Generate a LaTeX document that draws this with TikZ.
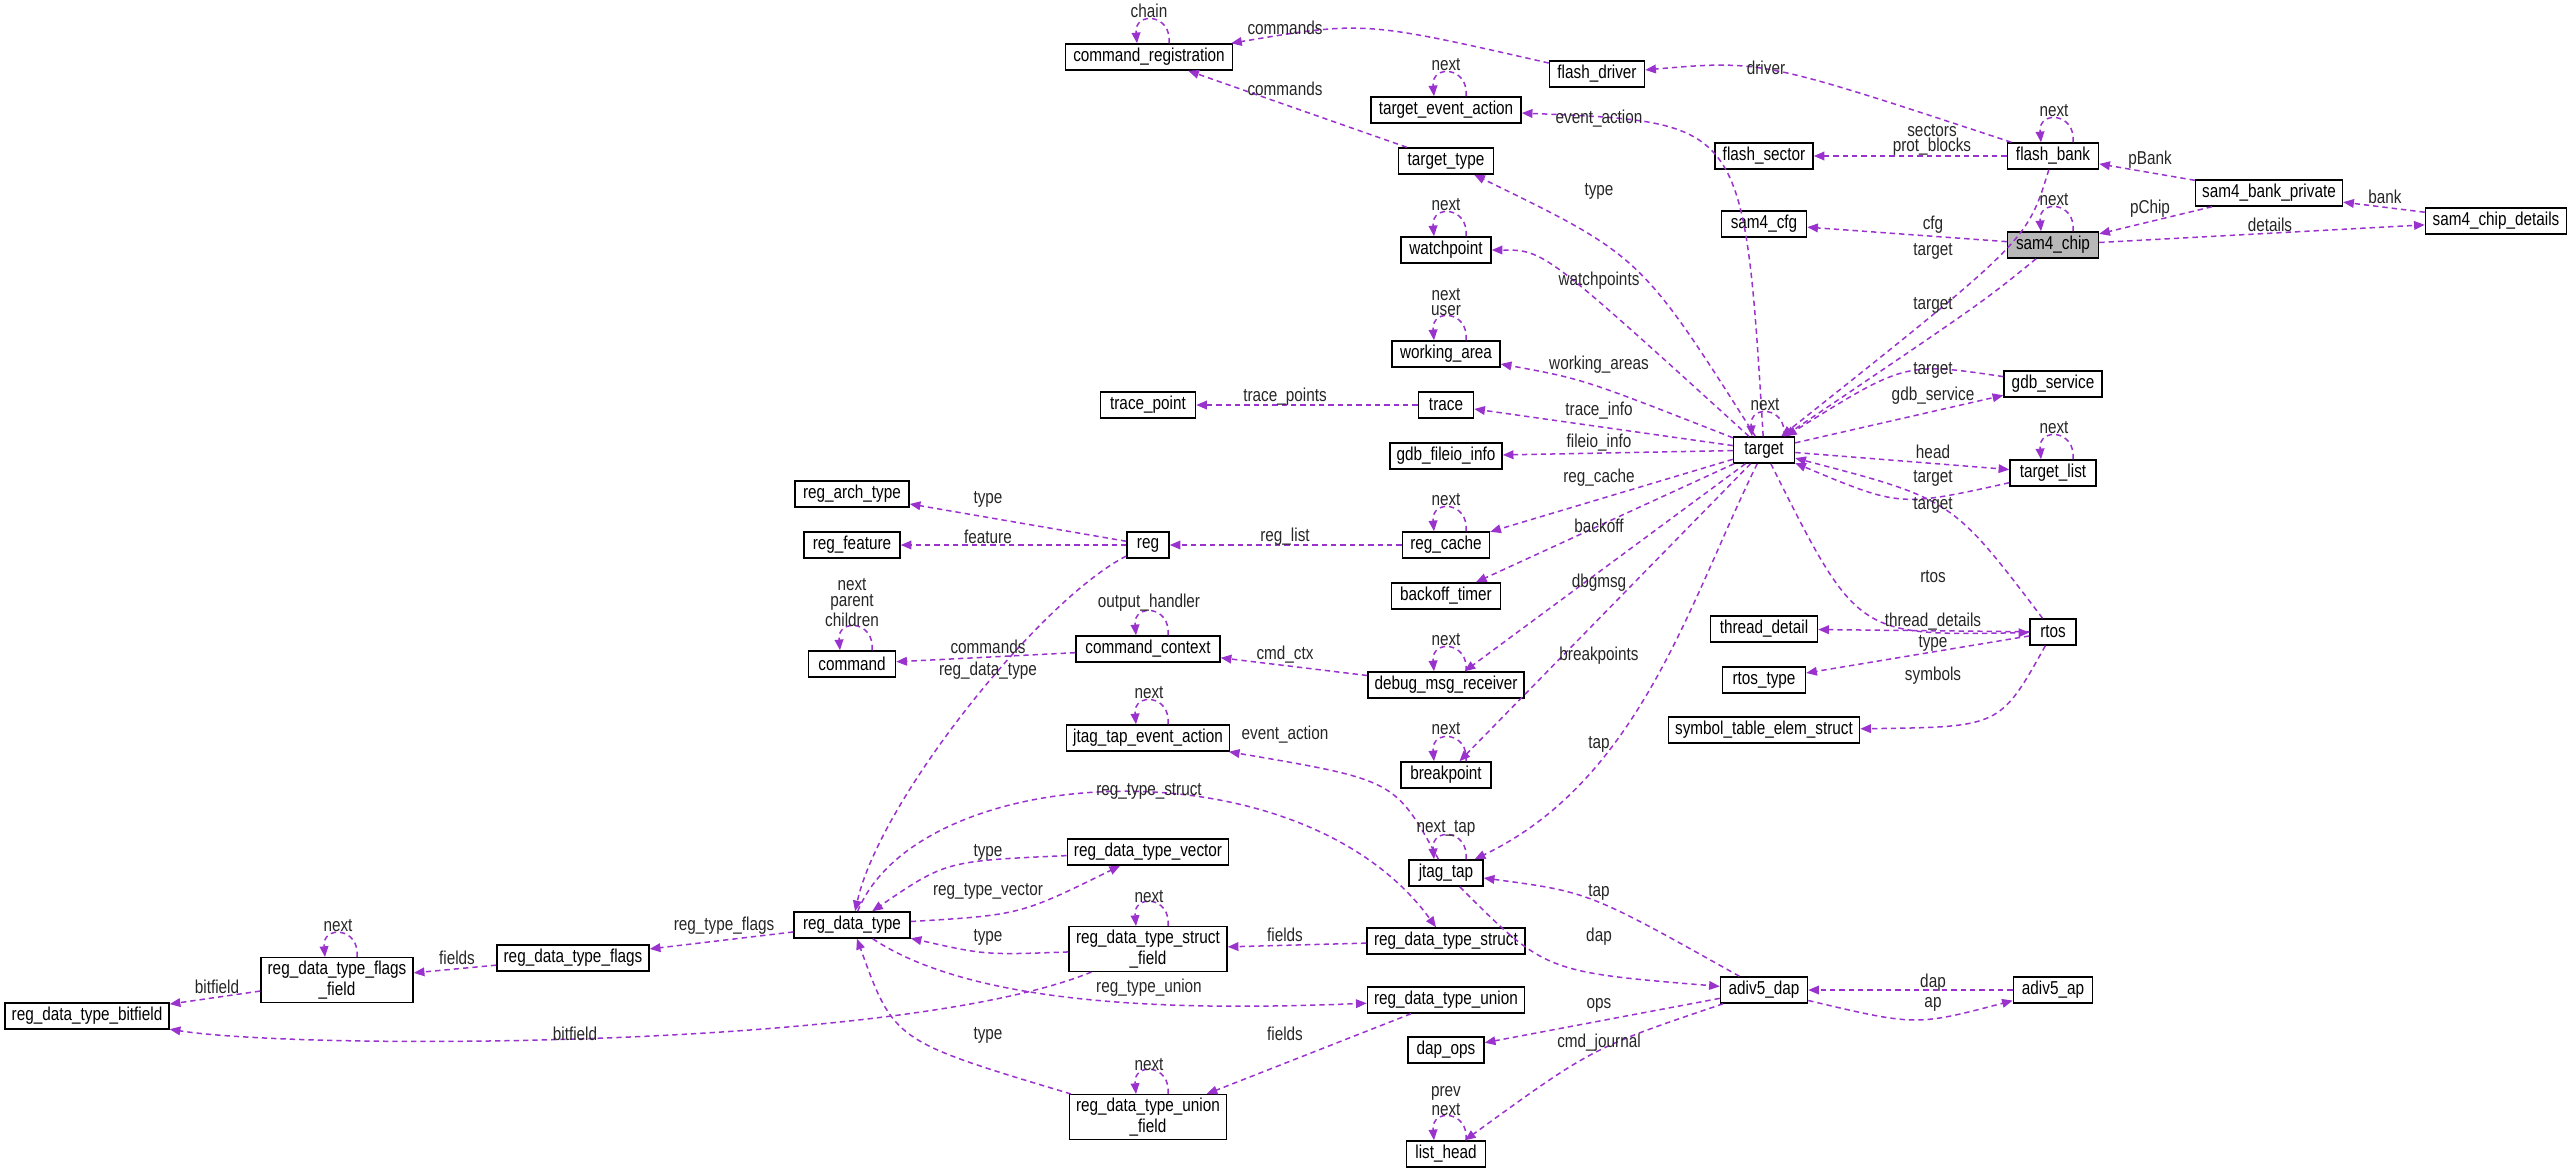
\documentclass[tikz,border=0pt]{standalone}
\usepackage{fontspec}
\setmainfont{Liberation Sans}[FakeStretch=0.82]
\usetikzlibrary{arrows.meta,calc}
\definecolor{ec}{HTML}{9A32CD}
\tikzset{
  nd/.style={draw=black,line width=0.45pt,fill=white,inner xsep=2pt,inner ysep=1pt,minimum height=26*0.3pt,minimum width=#1*0.3pt,font=\fontsize{5.6}{6.2}\selectfont,align=center},
  nd2/.style={nd=#1,minimum height=41*0.3pt},
  e/.style={draw=ec,dashed,dash pattern=on 1.6pt off 1.2pt,line width=0.45pt,-{Triangle[length=3.2pt,width=2.6pt]}},
  lb/.style={font=\fontsize{5.6}{4.6}\selectfont,align=center,inner sep=0pt,text=black!85}
}
\newcommand{\sloop}[1]{\draw[e] ($(#1.north)+(20,0)$) .. controls +(3,-30) and +(-3,-32) .. ($(#1.north)+(-12,0)$);}
\begin{document}
\begin{tikzpicture}[x=0.3pt,y=-0.3pt]
\useasboundingbox (0,0) rectangle (2572,1173);
% nodes
\node[nd=167] (cr) at (1149,57) {command\_registration};
\node[nd=95] (fd) at (1597,74) {flash\_driver};
\node[nd=150] (tea) at (1446,110) {target\_event\_action};
\node[nd=95] (tt) at (1446,161) {target\_type};
\node[nd=98] (fs) at (1764,156) {flash\_sector};
\node[nd=91] (fb) at (2053,156) {flash\_bank};
\node[nd=146] (sbp) at (2269,193) {sam4\_bank\_private};
\node[nd=141] (scd) at (2496,221) {sam4\_chip\_details};
\node[nd=85] (cfg) at (1764,224) {sam4\_cfg};
\node[nd=91,fill=black!28] (sc) at (2053,245) {sam4\_chip};
\node[nd=90] (wp) at (1446,250) {watchpoint};
\node[nd=108] (wa) at (1446,354) {working\_area};
\node[nd=55] (tr) at (1446,405) {trace};
\node[nd=95] (tp) at (1148,405) {trace\_point};
\node[nd=98] (gs) at (2053,384) {gdb\_service};
\node[nd=111] (gfi) at (1446,456) {gdb\_fileio\_info};
\node[nd=61] (tg) at (1764,450) {target};
\node[nd=86] (tl) at (2053,473) {target\_list};
\node[nd=87] (rc) at (1446,545) {reg\_cache};
\node[nd=109] (bt) at (1446,596) {backoff\_timer};
\node[nd=114] (rat) at (852,494) {reg\_arch\_type};
\node[nd=96] (rf) at (852,545) {reg\_feature};
\node[nd=42] (rg) at (1148,545) {reg};
\node[nd=87] (cmd) at (852,664) {command};
\node[nd=144] (cc) at (1148,649) {command\_context};
\node[nd=163] (jtea) at (1148,738) {jtag\_tap\_event\_action};
\node[nd=161] (rdtv) at (1148,852) {reg\_data\_type\_vector};
\node[nd=116] (rdt) at (852,925) {reg\_data\_type};
\node[nd=150] (rdtf) at (573,958) {reg\_data\_type\_flags};
\node[nd2=151] (rdtff) at (337,980) {reg\_data\_type\_flags\\\_field};
\node[nd=163] (rdtb) at (87,1016) {reg\_data\_type\_bitfield};
\node[nd2=158] (rdtsf) at (1148,949) {reg\_data\_type\_struct\\\_field};
\node[nd2=156] (rdtuf) at (1148,1117) {reg\_data\_type\_union\\\_field};
\node[nd=154] (dmr) at (1446,685) {debug\_msg\_receiver};
\node[nd=107] (td) at (1764,629) {thread\_detail};
\node[nd=46] (rt) at (2053,632) {rtos};
\node[nd=83] (rty) at (1764,680) {rtos\_type};
\node[nd=191] (ste) at (1764,730) {symbol\_table\_elem\_struct};
\node[nd=90] (bp) at (1446,775) {breakpoint};
\node[nd=74] (jt) at (1446,873) {jtag\_tap};
\node[nd=158] (rdts) at (1446,941) {reg\_data\_type\_struct};
\node[nd=155] (rdtu) at (1446,1000) {reg\_data\_type\_union};
\node[nd=87] (ad) at (1764,990) {adiv5\_dap};
\node[nd=79] (ap) at (2053,990) {adiv5\_ap};
\node[nd=76] (dops) at (1446,1050) {dap\_ops};
\node[nd=79] (lh) at (1446,1154) {list\_head};
% self loops
\sloop{cr} \sloop{tea} \sloop{fb} \sloop{sc} \sloop{wp} \sloop{wa} \sloop{tg} \sloop{tl}
\sloop{rc} \sloop{cmd} \sloop{cc} \sloop{dmr} \sloop{jtea} \sloop{bp} \sloop{jt} \sloop{rdtff}
\sloop{rdtsf} \sloop{rdtuf} \sloop{lh}
% edges
\draw[e] (fd) .. controls (1364,21) .. (cr);
\draw[e] (tt) -- (cr);
\draw[e] (tg) .. controls (1744,122) .. (tea);
\draw[e] (fb) .. controls (1762,60) .. (fd);
\draw[e] (tg) .. controls (1641,256) .. (tt);
\draw[e] (fb) -- (fs);
\draw[e] (sbp) -- (fb);
\draw[e] (scd) -- (sbp);
\draw[e] (sbp) -- (sc);
\draw[e] (sc) -- (scd);
\draw[e] (sc) -- (cfg);
\draw[e] (fb) .. controls (2027,241) .. (tg);
\draw[e] (sc) .. controls (1983,302) .. (tg);
\draw[e] (tg) .. controls (1544,250) .. (wp);
\draw[e] (tg) .. controls (1583,379) .. (wa);
\draw[e] (tr) -- (tp);
\draw[e] (tg) -- (tr);
\draw[e] (gs) .. controls (1905,362) .. (tg);
\draw[e] (tg) -- (gs);
\draw[e] (tg) -- (gfi);
\draw[e] (tg) -- (tl);
\draw[e] (tl) .. controls (1900,507) .. (tg);
\draw[e] (tg) -- (rc);
\draw[e] (rc) -- (rg);
\draw[e] (rg) -- (rat);
\draw[e] (rg) -- (rf);
\draw[e] (rg) .. controls (1040,600) and (880,800) .. (rdt);
\draw[e] (tg) -- (bt);
\draw[e] (rt) .. controls (1952,499) .. (tg);
\draw[e] (tg) .. controls (1857,636) .. (rt);
\draw[e] (rt) -- (td);
\draw[e] (rt) -- (rty);
\draw[e] (rt) .. controls (2000,727) .. (ste);
\draw[e] (tg) -- (dmr);
\draw[e] (dmr) -- (cc);
\draw[e] (cc) -- (cmd);
\draw[e] (tg) -- (bp);
\draw[e] (tg) .. controls (1690,600) and (1640,780) .. (jt);
\draw[e] (jt) .. controls (1395,780) .. (jtea);
\draw[e] (ad) .. controls (1589,892) .. (jt);
\draw[e] (jt) .. controls (1545,972) .. (ad);
\draw[e] (ap) -- (ad);
\draw[e] (ad) .. controls (1916,1026) .. (ap);
\draw[e] (ad) -- (dops);
\draw[e] (ad) .. controls (1592,1048) .. (lh);
\draw[e] (rdt) .. controls (920,760) and (1300,740) .. (rdts);
\draw[e] (rdtv) .. controls (946,861) .. (rdt);
\draw[e] (rdt) .. controls (1020,915) .. (rdtv);
\draw[e] (rdtsf) .. controls (985,955) .. (rdt);
\draw[e] (rdts) -- (rdtsf);
\draw[e] (rdt) .. controls (980,1010) and (1200,1010) .. (rdtu);
\draw[e] (rdtu) -- (rdtuf);
\draw[e] (rdtuf) .. controls (894,1041) .. (rdt);
\draw[e] (rdt) -- (rdtf);
\draw[e] (rdtf) -- (rdtff);
\draw[e] (rdtff) -- (rdtb);
\draw[e] (rdtsf) .. controls (900,1050) and (300,1050) .. (rdtb);
% labels
\node[lb] at (1149,11) {chain};
\node[lb] at (1285,28) {commands};
\node[lb] at (1285,89) {commands};
\node[lb] at (1446,65) {next};
\node[lb] at (1599,119) {event\_action};
\node[lb] at (1766,68) {driver};
\node[lb] at (1599,191) {type};
\node[lb] at (1932,140) {sectors\\prot\_blocks};
\node[lb] at (2054,111) {next};
\node[lb] at (2150,160) {pBank};
\node[lb] at (2385,197) {bank};
\node[lb] at (2150,209) {pChip};
\node[lb] at (2054,200) {next};
\node[lb] at (2270,225) {details};
\node[lb] at (1933,225) {cfg};
\node[lb] at (1933,251) {target};
\node[lb] at (1933,305) {target};
\node[lb] at (1446,205) {next};
\node[lb] at (1599,281) {watchpoints};
\node[lb] at (1446,302) {next\\user};
\node[lb] at (1599,365) {working\_areas};
\node[lb] at (1285,397) {trace\_points};
\node[lb] at (1599,411) {trace\_info};
\node[lb] at (1765,405) {next};
\node[lb] at (1933,370) {target};
\node[lb] at (1933,396) {gdb\_service};
\node[lb] at (1599,443) {fileio\_info};
\node[lb] at (1933,452) {head};
\node[lb] at (2054,428) {next};
\node[lb] at (1933,478) {target};
\node[lb] at (1933,505) {target};
\node[lb] at (1599,478) {reg\_cache};
\node[lb] at (1446,500) {next};
\node[lb] at (1599,526) {backoff};
\node[lb] at (1285,537) {reg\_list};
\node[lb] at (988,499) {type};
\node[lb] at (988,537) {feature};
\node[lb] at (1933,577) {rtos};
\node[lb] at (1599,583) {dbgmsg};
\node[lb] at (1933,622) {thread\_details};
\node[lb] at (1933,643) {type};
\node[lb] at (1933,676) {symbols};
\node[lb] at (1446,640) {next};
\node[lb] at (1285,655) {cmd\_ctx};
\node[lb] at (1149,603) {output\_handler};
\node[lb] at (852,603) {next\\parent\\children};
\node[lb] at (988,647) {commands};
\node[lb] at (988,671) {reg\_data\_type};
\node[lb] at (1599,656) {breakpoints};
\node[lb] at (1149,693) {next};
\node[lb] at (1285,735) {event\_action};
\node[lb] at (1446,729) {next};
\node[lb] at (1599,744) {tap};
\node[lb] at (1446,828) {next\_tap};
\node[lb] at (1599,892) {tap};
\node[lb] at (1599,937) {dap};
\node[lb] at (1933,983) {dap};
\node[lb] at (1933,1004) {ap};
\node[lb] at (1599,1005) {ops};
\node[lb] at (1599,1043) {cmd\_journal};
\node[lb] at (1446,1101) {prev\\next};
\node[lb] at (1149,791) {reg\_type\_struct};
\node[lb] at (988,852) {type};
\node[lb] at (988,891) {reg\_type\_vector};
\node[lb] at (724,926) {reg\_type\_flags};
\node[lb] at (457,958) {fields};
\node[lb] at (338,926) {next};
\node[lb] at (217,987) {bitfield};
\node[lb] at (575,1034) {bitfield};
\node[lb] at (1149,897) {next};
\node[lb] at (988,937) {type};
\node[lb] at (1285,935) {fields};
\node[lb] at (1149,988) {reg\_type\_union};
\node[lb] at (988,1035) {type};
\node[lb] at (1285,1034) {fields};
\node[lb] at (1149,1065) {next};
\end{tikzpicture}
\end{document}
